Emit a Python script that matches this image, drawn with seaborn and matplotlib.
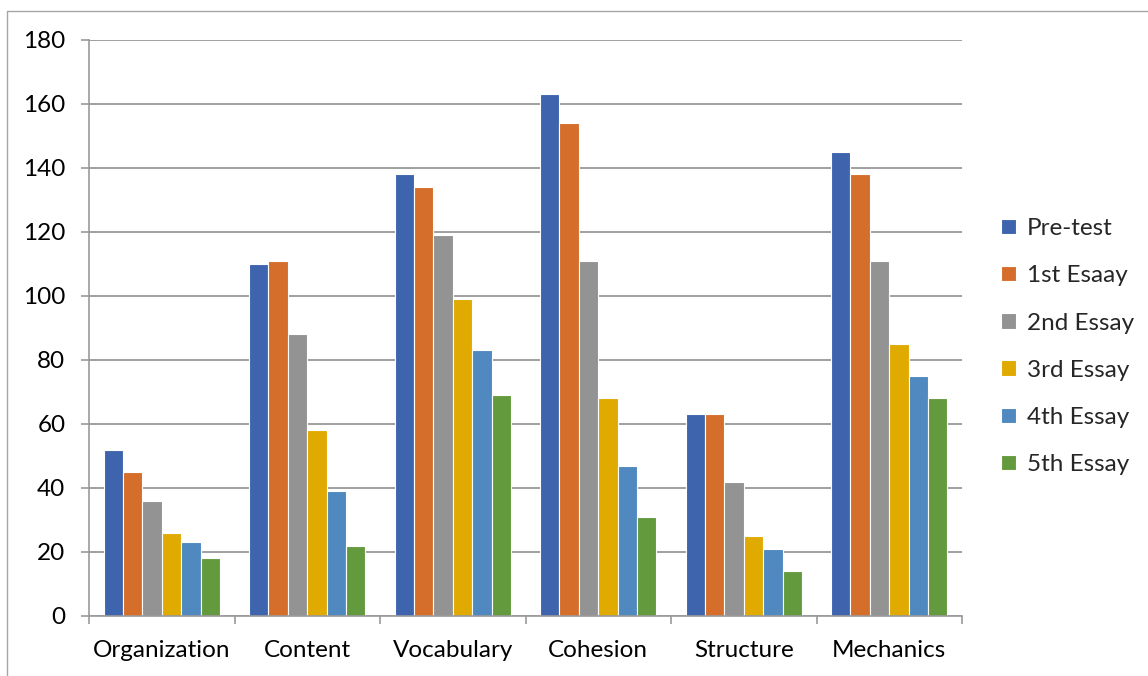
import matplotlib
matplotlib.use("Agg")
import matplotlib.pyplot as plt
from matplotlib.lines import Line2D
import seaborn as sns
import pandas as pd

categories = ["Organization", "Content", "Vocabulary", "Cohesion", "Structure", "Mechanics"]
series_names = ["Pre-test", "1st Esaay", "2nd Essay", "3rd Essay", "4th Essay", "5th Essay"]
pre_test = [52, 110, 138, 163, 63, 145]
essay_1 = [45, 111, 134, 154, 63, 138]
essay_2 = [36, 88, 119, 111, 42, 111]
essay_3 = [26, 58, 99, 68, 25, 85]
essay_4 = [23, 39, 83, 47, 21, 75]
essay_5 = [18, 22, 69, 31, 14, 68]
y_ticks = [0, 20, 40, 60, 80, 100, 120, 140, 160, 180]

colors = ["#3D64AD", "#D46E2A", "#939393", "#E0AA00", "#4F89BF", "#639A3E"]

series_values = [pre_test, essay_1, essay_2, essay_3, essay_4, essay_5]
rows = []
for name, vals in zip(series_names, series_values):
    for cat, v in zip(categories, vals):
        rows.append({"Category": cat, "Series": name, "Value": v})
df = pd.DataFrame(rows)

sns.set_theme(style="white")
plt.rcParams["font.family"] = ["Lato", "DejaVu Sans"]

FS = 17.5

fig = plt.figure(figsize=(11.48, 6.76), dpi=100)
ax = fig.add_axes([89 / 1148, 1 - 616 / 676, (962 - 89) / 1148, (616 - 40) / 676])

sns.barplot(data=df, x="Category", y="Value", hue="Series", order=categories,
            hue_order=series_names, palette=colors, width=0.8, ax=ax,
            edgecolor="white", linewidth=0.8, saturation=1, errorbar=None)

ax.set_ylim(0, 180)
ax.set_xlim(-0.5, len(categories) - 0.5)
ax.set_yticks(y_ticks)
ax.set_yticklabels([str(t) for t in y_ticks])
ax.set_xlabel("")
ax.set_ylabel("")
ax.yaxis.grid(True, color="#8f8f8f", linewidth=1.2)
ax.xaxis.grid(False)
ax.set_axisbelow(True)

for s in ["top", "right"]:
    ax.spines[s].set_visible(False)
for s in ["left", "bottom"]:
    ax.spines[s].set_color("#9a9a9a")
    ax.spines[s].set_linewidth(1.2)

# category boundary ticks on x axis
ax.set_xticks([i for i in range(len(categories))])
ax.set_xticklabels(categories)
ax.set_xticks([i - 0.5 for i in range(len(categories) + 1)], minor=True)
ax.tick_params(axis="x", which="major", length=0, pad=17, labelsize=FS, colors="black")
ax.tick_params(axis="x", which="minor", length=6, width=1.2, color="#9a9a9a", bottom=True)
ax.tick_params(axis="y", which="major", length=6, width=1.2, color="#9a9a9a", left=True,
               pad=11, labelsize=FS, colors="black")

handles, labels = ax.get_legend_handles_labels()
ax.legend(handles, labels, loc="upper left", bbox_to_anchor=(1001 / 1148, 1 - 218 / 676),
          bbox_transform=fig.transFigure, frameon=False, fontsize=FS,
          handlelength=0.6, handleheight=0.6, handletextpad=0.45, labelspacing=1.08,
          borderpad=0, borderaxespad=0)

# outer frame (left and top edges visible in the reference)
fig.add_artist(Line2D([7 / 1148, 7 / 1148], [0, 1 - 11 / 676], transform=fig.transFigure,
                      color="#a6a6a6", linewidth=1.0))
fig.add_artist(Line2D([7 / 1148, 1], [1 - 11 / 676, 1 - 11 / 676], transform=fig.transFigure,
                      color="#a6a6a6", linewidth=1.0))

fig.savefig("out.png", dpi=100)
